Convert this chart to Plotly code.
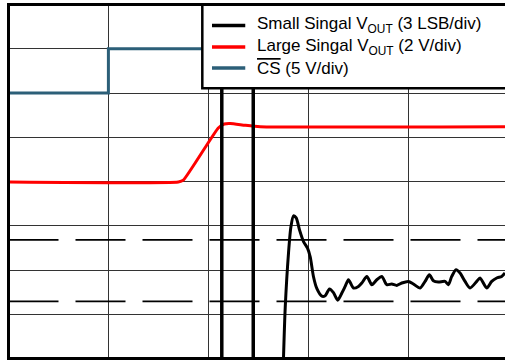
import plotly.graph_objects as go

# horizontal unit = 1 screen division, vertical unit = 1 screen division
# CS (5 V/div)
cs_t = [0.0, 1.0, 1.0, 4.97]
cs_v = [6.0, 6.0, 7.0, 7.0]

# Large signal VOUT (2 V/div)
large_t = [0.0, 1.70, 1.75, 2.10, 2.16, 2.22, 2.37, 2.52, 4.97]
large_v = [3.99, 3.99, 4.03, 5.21, 5.30, 5.31, 5.27, 5.24, 5.235]

# Small signal VOUT (3 LSB/div)
small_t = [2.75, 2.77, 2.803, 2.827, 2.853, 2.88, 2.913, 2.953, 2.993, 3.02,
           3.053, 3.087, 3.137, 3.17, 3.213, 3.253, 3.295, 3.337, 3.37, 3.403,
           3.453, 3.503, 3.537, 3.587, 3.637, 3.687, 3.737, 3.787, 3.837, 3.887,
           3.937, 4.003, 4.053, 4.12, 4.17, 4.213, 4.253, 4.303, 4.37, 4.403,
           4.437, 4.48, 4.52, 4.57, 4.62, 4.687, 4.72, 4.787, 4.837, 4.887,
           4.937, 4.97]
small_v = [-0.2, 1.149, 2.389, 2.975, 3.223, 3.177, 2.907, 2.643, 2.495, 2.299,
           1.848, 1.577, 1.408, 1.420, 1.571, 1.487, 1.318, 1.481, 1.629, 1.780,
           1.593, 1.629, 1.706, 1.855, 1.668, 1.780, 1.855, 1.668, 1.683, 1.652,
           1.706, 1.742, 1.683, 1.593, 1.742, 1.893, 1.758, 1.728, 1.742, 1.668,
           1.855, 2.006, 1.931, 1.742, 1.593, 1.742, 1.819, 1.593, 1.742, 1.819,
           1.855, 1.931]

# +/- error band (dashed) and cursors
limit_v = [2.68, 1.29]
cursor_t = [2.135, 2.45]

legend_labels = ["Small Singal V<sub>OUT</sub> (3 LSB/div)",
                 "Large Singal V<sub>OUT</sub> (2 V/div)",
                 "<span style='text-decoration:overline'>CS</span> (5 V/div)"]
legend_colors = ["black", "#ff0000", "#2c5f78"]
legend_rows = [7.527, 7.038, 6.565]

fig = go.Figure()

for v in limit_v:
    fig.add_trace(go.Scatter(x=[0, 4.97], y=[v, v], mode="lines",
                             line=dict(color="black", width=1.6, dash="50px,17px")))

fig.add_trace(go.Scatter(x=cs_t, y=cs_v, mode="lines", line=dict(color="#2c5f78", width=3)))
fig.add_trace(go.Scatter(x=large_t, y=large_v, mode="lines",
                         line=dict(color="#ff0000", width=3, shape="spline", smoothing=0.5)))

for t in cursor_t:
    fig.add_trace(go.Scatter(x=[t, t], y=[0, 8], mode="lines", line=dict(color="black", width=3.5)))

fig.add_trace(go.Scatter(x=small_t, y=small_v, mode="lines",
                         line=dict(color="black", width=3, shape="spline", smoothing=0.7)))

# legend box drawn by hand (it runs off the right edge)
shapes = [dict(type="rect", xref="x", yref="y", x0=1.94, x1=5.3, y0=6.107, y1=8.0,
               fillcolor="white", line=dict(color="black", width=2.5), layer="above")]
annotations = []
for lab, col, yv in zip(legend_labels, legend_colors, legend_rows):
    shapes.append(dict(type="line", xref="x", yref="y", x0=2.037, x1=2.37, y0=yv, y1=yv,
                       line=dict(color=col, width=3.5), layer="above"))
    annotations.append(dict(x=2.47, y=yv, xref="x", yref="y", text=lab, showarrow=False,
                            xanchor="left", yanchor="middle",
                            font=dict(family="Liberation Sans, Arial", size=17, color="black")))

fig.update_layout(
    width=505, height=362,
    margin=dict(l=9.5, r=0, t=5.5, b=4.5),
    paper_bgcolor="white", plot_bgcolor="white",
    showlegend=False,
    shapes=shapes, annotations=annotations,
    xaxis=dict(range=[0.015, 4.97], dtick=1, showticklabels=False, ticks="",
               showgrid=True, gridcolor="#333333", gridwidth=1, zeroline=False,
               showline=True, linecolor="black", linewidth=3, mirror=True),
    yaxis=dict(range=[0.034, 7.966], dtick=1, showticklabels=False, ticks="",
               showgrid=True, gridcolor="#333333", gridwidth=1, zeroline=False,
               showline=True, linecolor="black", linewidth=3),
)

# drop the page's default body margin so the figure sits at (0, 0)
fig.write_html("out.html", config={"displayModeBar": False},
               post_script="document.body.style.margin='0';document.body.style.overflow='hidden';")
